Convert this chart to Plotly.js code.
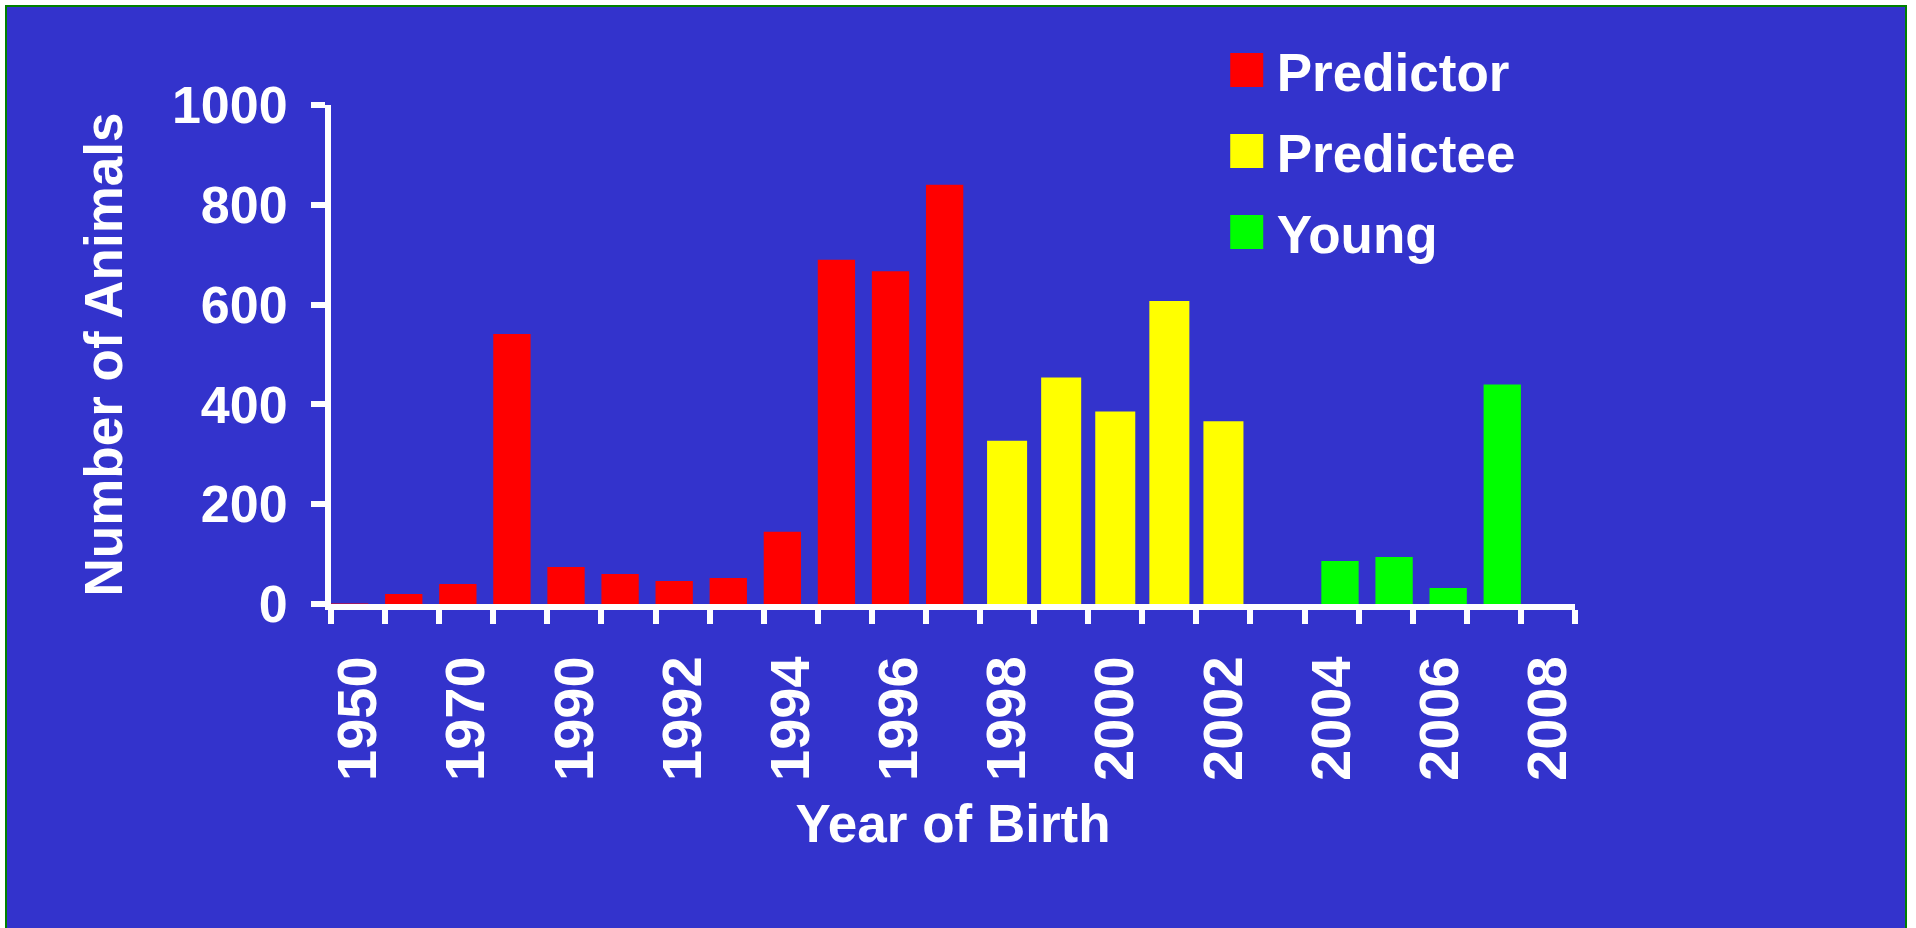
<!DOCTYPE html>
<html>
<head>
<meta charset="utf-8">
<script src="https://cdn.plot.ly/plotly-3.0.1.min.js"></script>
<style>
  html, body { margin: 0; padding: 0; background: #ffffff; }
  #frame { position: absolute; left: 5px; top: 5px; width: 1898px; height: 930px;
           background: #3333CC; border: 2px solid #008000; border-bottom: none; }
  #chart { position: absolute; left: 0; top: 0; width: 1916px; height: 928px; }
</style>
</head>
<body>
<div id="frame"></div>
<div id="chart"></div>
<script>
// Categories (year of birth)
const years = ['1950','1960','1970','1980','1990','1991','1992','1993','1994','1995','1996','1997',
               '1998','1999','2000','2001','2002','2003','2004','2005','2006','2007','2008'];
// Tick labels (every other category is labelled)
const yearLabels = ['1950','','1970','','1990','','1992','','1994','','1996','',
                    '1998','','2000','','2002','','2004','','2006','','2008'];
// Series values (null = no bar for that series)
const predictor = [1,20,40,541,74,60,46,52,145,690,667,840,
                   null,null,null,null,null,null,null,null,null,null,null];
const predictee = [null,null,null,null,null,null,null,null,null,null,null,null,
                   327,454,386,607,366,null,null,null,null,null,null];
const young     = [null,null,null,null,null,null,null,null,null,null,null,null,
                   null,null,null,null,null,null,86,94,32,440,null];
const seriesNames = ['Predictor','Predictee','Young'];
const yTickVals = [0,200,400,600,800,1000];

const FONT = '"Liberation Sans", Arial, Helvetica, sans-serif';

const traces = [
  {type:'bar', name: seriesNames[0], x: years, y: predictor, marker:{color:'#FF0000'},
   width: 0.69, offset: -0.5, legendgroup:'a'},
  {type:'bar', name: seriesNames[1], x: years, y: predictee, marker:{color:'#FFFF00'},
   width: 0.74, offset: -0.37, legendgroup:'b'},
  {type:'bar', name: seriesNames[2], x: years, y: young, marker:{color:'#00FF00'},
   width: 0.69, offset: -0.19, legendgroup:'c'}
];

const layout = {
  width: 1916, height: 928,
  paper_bgcolor: 'rgba(0,0,0,0)', plot_bgcolor: 'rgba(0,0,0,0)',
  margin: {l: 331, r: 341, t: 105, b: 324},
  barmode: 'overlay',
  font: {family: FONT, color: '#FFFFFF', size: 52, weight: 700},
  showlegend: true,
  legend: {
    x: 0.712, y: 1.152, xanchor: 'left', yanchor: 'top',
    bgcolor: 'rgba(0,0,0,0)', borderwidth: 0,
    font: {family: FONT, size: 53, color: '#FFFFFF', weight: 700},
    itemwidth: 50, traceorder: 'grouped', tracegroupgap: 9
  },
  xaxis: {
    type: 'category', categoryorder: 'array', categoryarray: years,
    range: [-0.5, 22.5], fixedrange: true,
    tickmode: 'array', tickvals: years, ticktext: yearLabels,
    tickson: 'boundaries', ticks: 'outside', ticklen: 14, tickwidth: 6, tickcolor: '#FFFFFF',
    tickangle: -90, ticklabelstandoff: 24,
    tickfont: {family: FONT, size: 56, color: '#FFFFFF', weight: 700},
    showline: true, linecolor: '#FFFFFF', linewidth: 6,
    showgrid: false, zeroline: false,
    title: {text: 'Year of Birth', standoff: 27,
            font: {family: FONT, size: 53, color: '#FFFFFF', weight: 700}}
  },
  yaxis: {
    range: [0, 1000], fixedrange: true,
    tickmode: 'array', tickvals: yTickVals,
    ticks: 'outside', ticklen: 14, tickwidth: 6, tickcolor: '#FFFFFF',
    ticklabelstandoff: 13,
    tickfont: {family: FONT, size: 52, color: '#FFFFFF', weight: 700},
    showline: true, linecolor: '#FFFFFF', linewidth: 6,
    showgrid: false, zeroline: false,
    title: {text: 'Number of Animals', standoff: 34,
            font: {family: FONT, size: 53, color: '#FFFFFF', weight: 700}}
  }
};

function enlargeSwatches() {
  document.querySelectorAll('#chart .legendpoints path').forEach(function(p){
    p.setAttribute('d', 'M16.5,17H-16.5V-17H16.5Z');
  });
}

Plotly.newPlot('chart', traces, layout, {displayModeBar: false, staticPlot: true}).then(function(gd){
  enlargeSwatches();
  setTimeout(enlargeSwatches, 0);
  setTimeout(enlargeSwatches, 50);
});
</script>
</body>
</html>
